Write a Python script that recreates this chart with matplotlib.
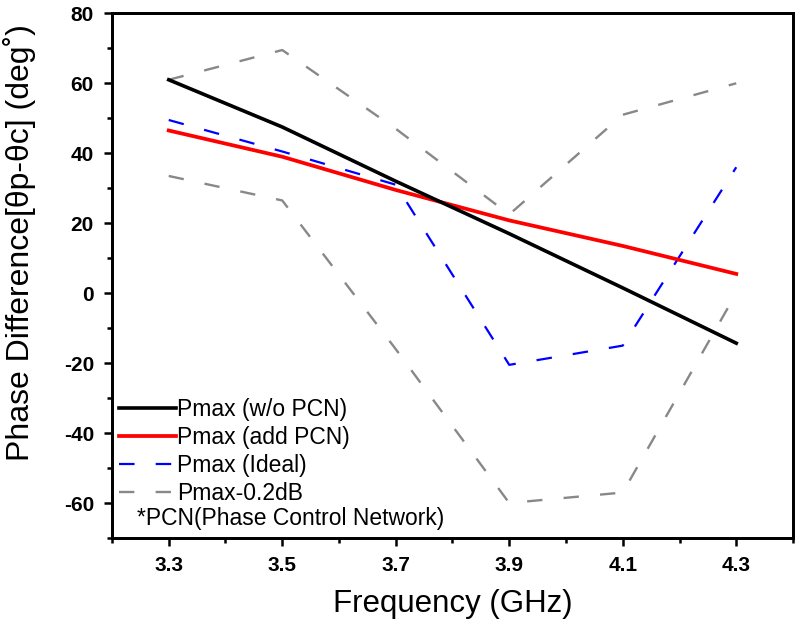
import matplotlib
matplotlib.use("Agg")
import matplotlib.pyplot as plt
from matplotlib.ticker import MultipleLocator

# data
freq = [3.3, 3.5, 3.7, 3.9, 4.1, 4.3]
wo_pcn = [61, 47.5, 32, 17, 1.5, -14.3]
add_pcn = [46.5, 39, 29.5, 20.8, 13.5, 5.5]
ideal = [49.5, 40.5, 31, -20.5, -15, 36]
upper_02db = [61, 69.5, 47, 22.5, 51, 60]
lower_02db = [33.5, 26.5, -16, -60, -57, 0]

xticks = [3.3, 3.5, 3.7, 3.9, 4.1, 4.3]
yticks = [-60, -40, -20, 0, 20, 40, 60, 80]

plt.rcParams['font.family'] = ['Liberation Sans', 'DejaVu Sans']
plt.rcParams['axes.unicode_minus'] = False

fig = plt.figure(figsize=(7.97, 6.28), dpi=100)
ax = fig.add_axes([0.1405, 0.1433, 0.8545, 0.8355])

ax.plot(freq, upper_02db, color='#888888', lw=1.7, dashes=(6.5, 9), label='Pmax-0.2dB')
ax.plot(freq, lower_02db, color='#888888', lw=1.7, dashes=(6.5, 9))
ax.plot(freq, ideal, color='#0000ff', lw=1.6, dashes=(7, 9.5), label='Pmax (Ideal)')
ax.plot(freq, add_pcn, color='#ff0000', lw=2.7, label='Pmax (add PCN)')
ax.plot(freq, wo_pcn, color='black', lw=2.6, label='Pmax (w/o PCN)')

ax.set_xlim(3.2, 4.4)
ax.set_ylim(-70, 80)
ax.set_xticks(xticks)
ax.set_yticks(yticks)
ax.xaxis.set_minor_locator(MultipleLocator(0.1))
ax.yaxis.set_minor_locator(MultipleLocator(10))
ax.tick_params(which='major', direction='out', length=6, width=1.8, pad=7)
ax.tick_params(which='minor', direction='out', length=3.5, width=1.8)
for lab in ax.get_xticklabels() + ax.get_yticklabels():
    lab.set_fontsize(15)
    lab.set_fontweight('bold')
for sp in ax.spines.values():
    sp.set_linewidth(2.0)

# the top and right edges of the frame, drawn as a box so they always show
frame = plt.Rectangle((0, 0), 1, 1, transform=ax.transAxes, fill=False,
                      edgecolor='black', lw=2.0, clip_on=False, zorder=6)
ax.add_patch(frame)

ax.set_xlabel('Frequency (GHz)', fontsize=22.5, labelpad=10)
ax.set_ylabel('Phase Difference[\u03b8p-\u03b8c] (deg\u02da)', fontsize=23)
ax.yaxis.set_label_coords(-0.111, 0.563)

h, l = ax.get_legend_handles_labels()
order = [3, 2, 1, 0]
ax.legend([h[i] for i in order], [l[i] for i in order], loc='upper left',
          bbox_to_anchor=(0.0, 0.28), frameon=False, fontsize=16.5,
          handlelength=2.5, handletextpad=0.05, labelspacing=0.22,
          borderpad=0, borderaxespad=0.3)
ax.text(0.037, 0.038, '*PCN(Phase Control Network)', transform=ax.transAxes,
        fontsize=16.5, va='center', ha='left')

fig.savefig('out.png', dpi=100)
